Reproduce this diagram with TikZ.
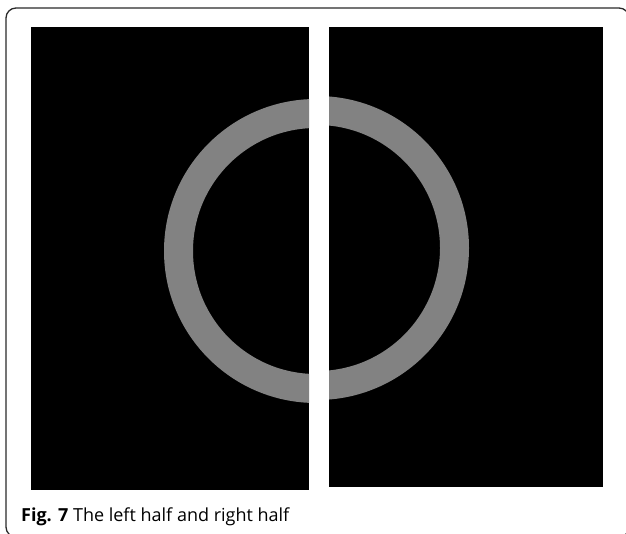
\documentclass[tikz,border=0pt]{standalone}
\usepackage{fontspec}
\setmainfont{Open Sans}
\definecolor{ringgray}{HTML}{828282}
\definecolor{framegray}{HTML}{2A2A2A}

\begin{document}
\begin{tikzpicture}[x=1pt,y=-1pt,
  panel/.style={fill=black},
  ring/.style={fill=ringgray,even odd rule},
  caption/.style={anchor=base west,inner sep=0pt,
                  font=\fontsize{18}{21}\selectfont}]
  \useasboundingbox (0,0) rectangle (626,534);
  \clip (0,0) rectangle (626,534);
  % outer frame
  \draw[framegray,line width=1.3pt,rounded corners=10pt] (6,8) rectangle (629,537);
  % left half
  \begin{scope}
    \fill[panel] (31,27) rectangle (309,490);
    \clip (31,27) rectangle (309,490);
    \fill[ring] (316,251) circle[radius=152] (316,251) circle[radius=123];
  \end{scope}
  % right half
  \begin{scope}
    \fill[panel] (329,27) rectangle (603,487);
    \clip (329,27) rectangle (603,487);
    \fill[ring] (317,248) circle[radius=152] (317,248) circle[radius=123];
  \end{scope}
  \node[caption] (cap) at (21,521) {\textbf{Fig. 7} The left half and right half};
\end{tikzpicture}
\end{document}
